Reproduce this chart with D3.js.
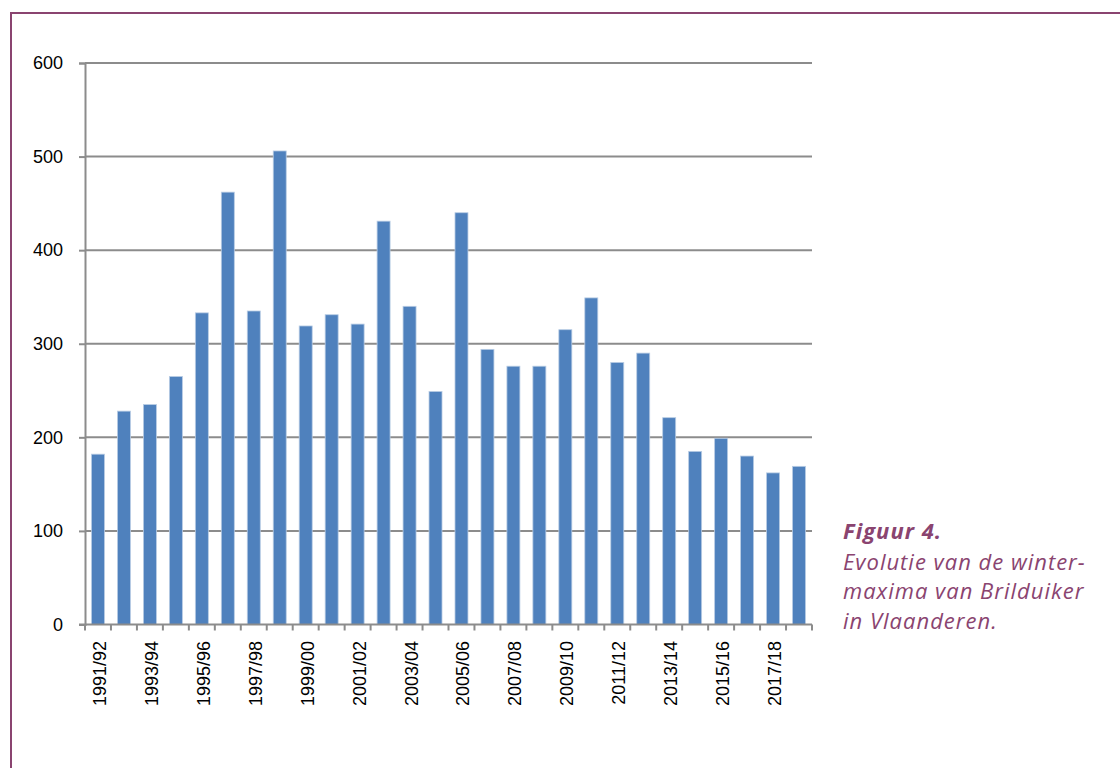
<!DOCTYPE html>
<html>
<head>
<meta charset="utf-8">
<script src="https://cdn.jsdelivr.net/npm/d3@7"></script>
<style>
  html, body { margin: 0; padding: 0; background: #fff; }
  svg { display: block; }
</style>
</head>
<body>
<svg id="chart" width="1120" height="768"></svg>
<script>
// Winter seasons and the winter maxima of Brilduiker (Common Goldeneye) in Flanders
const seasons = [
  "1991/92","1992/93","1993/94","1994/95","1995/96","1996/97","1997/98",
  "1998/99","1999/00","2000/01","2001/02","2002/03","2003/04","2004/05",
  "2005/06","2006/07","2007/08","2008/09","2009/10","2010/11","2011/12",
  "2012/13","2013/14","2014/15","2015/16","2016/17","2017/18","2018/19"
];
const maxima = [
  182, 228, 235, 265, 333, 462, 335,
  506, 319, 331, 321, 431, 340, 249,
  440, 294, 276, 276, 315, 349, 280,
  290, 221, 185, 199, 180, 162, 169
];
const yTicks = [0, 100, 200, 300, 400, 500, 600];
const captionLines = [
  "Evolutie van de winter-",
  "maxima van Brilduiker",
  "in Vlaanderen."
];
const captionTitle = "Figuur 4.";

const svg = d3.select("#chart");
const frameColor = "#8a4470";
const axisColor = "#8c8c8c";
const barColor = "#4f81bd";
const labelFont = "'Liberation Sans', Arial, sans-serif";

// Frame: left and top rules
svg.append("path")
  .attr("d", "M11,768 V13 H1120")
  .attr("fill", "none")
  .attr("stroke", frameColor)
  .attr("stroke-width", 2);

const plotLeft = 85, plotRight = 812, plotTop = 63, plotBottom = 624.5;

const x = d3.scaleBand().domain(seasons).range([plotLeft, plotRight]).paddingInner(0.5).paddingOuter(0.25);
const y = d3.scaleLinear().domain([0, 600]).range([plotBottom, plotTop]);

// Horizontal gridlines
svg.append("g")
  .selectAll("line")
  .data(yTicks.filter(d => d > 0))
  .join("line")
  .attr("x1", plotLeft).attr("x2", plotRight)
  .attr("y1", d => y(d)).attr("y2", d => y(d))
  .attr("stroke", axisColor)
  .attr("stroke-width", 2);

// Bars
svg.append("g")
  .selectAll("rect")
  .data(maxima)
  .join("rect")
  .attr("x", (d, i) => x(seasons[i]))
  .attr("width", x.bandwidth())
  .attr("y", d => y(d))
  .attr("height", d => y(0) - y(d))
  .attr("fill", barColor)
  .attr("stroke", "#b8cce4")
  .attr("stroke-width", 0.8);

// Y axis
const yAxis = svg.append("g")
  .attr("transform", `translate(${plotLeft},0)`)
  .call(d3.axisLeft(y).tickValues(yTicks).tickSize(6).tickPadding(16));
yAxis.select(".domain").attr("stroke", axisColor).attr("stroke-width", 2);
yAxis.selectAll(".tick line").attr("stroke", axisColor).attr("stroke-width", 2);
yAxis.selectAll(".tick text")
  .attr("fill", "#000")
  .style("font-family", labelFont)
  .style("font-size", "18px");

// X axis: baseline with tick marks between categories
const boundaries = d3.range(seasons.length + 1).map(i => plotLeft + i * x.step());
svg.append("line")
  .attr("x1", plotLeft - 6).attr("x2", plotRight)
  .attr("y1", y(0)).attr("y2", y(0))
  .attr("stroke", axisColor).attr("stroke-width", 2);
svg.append("g")
  .selectAll("line")
  .data(boundaries)
  .join("line")
  .attr("x1", d => d).attr("x2", d => d)
  .attr("y1", y(0)).attr("y2", y(0) + 6)
  .attr("stroke", axisColor).attr("stroke-width", 2);

// Category labels, every other season, rotated
svg.append("g")
  .selectAll("text")
  .data(seasons.filter((d, i) => i % 2 === 0))
  .join("text")
  .attr("transform", d => `translate(${x(d) + x.bandwidth() / 2 + 8},${y(0) + 16.5}) rotate(-90)`)
  .attr("text-anchor", "end")
  .attr("fill", "#000")
  .style("font-family", labelFont)
  .style("font-size", "18px")
  .text(d => d);

// Caption
const cap = svg.append("text")
  .attr("x", 843)
  .attr("fill", frameColor)
  .style("font-family", "'Open Sans', sans-serif")
  .style("font-style", "italic")
  .style("font-size", "22px")
  .style("letter-spacing", "1px");
cap.append("tspan").attr("x", 843).attr("y", 538.5).style("font-weight", "bold").text(captionTitle);
captionLines.forEach((t, i) => {
  cap.append("tspan").attr("x", 843).attr("y", 569.5 + i * 29.5).text(t);
});
</script>
</body>
</html>
